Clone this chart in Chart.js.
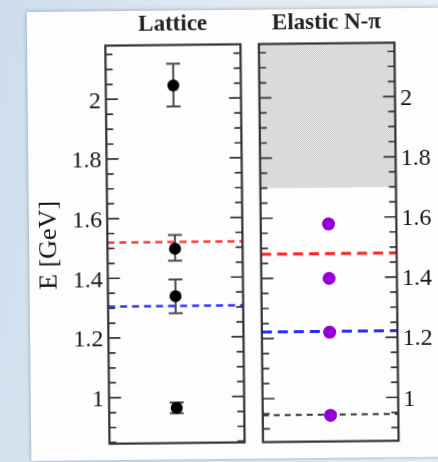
<!DOCTYPE html>
<html>
<head>
<meta charset="utf-8">
<script src="https://cdn.jsdelivr.net/npm/chart.js@4.4.1/dist/chart.umd.min.js"></script>
<style>
  html, body { margin: 0; padding: 0; }
  body {
    width: 438px; height: 462px; overflow: hidden; position: relative;
    background: linear-gradient(100deg, #cddded 0%, #dfeaf3 45%, #e9f1f7 100%);
  }
  #slide {
    position: absolute; left: 0; top: 0; width: 438px; height: 462px;
    transform: rotate(-0.6deg); transform-origin: 219px 231px;
  }
  #card {
    position: absolute; left: 29px; top: 10px; width: 440px; height: 449px;
    background: #fdfdfd; box-shadow: 0 0 4px rgba(60, 70, 85, 0.45);
  }
  #lattice { position: absolute; left: 0; top: 0; }
  #elastic { position: absolute; left: 250px; top: 0; }
</style>
</head>
<body>
<div id="slide">
  <div id="card"></div>
  <canvas id="lattice" width="250" height="462"></canvas>
  <canvas id="elastic" width="188" height="462"></canvas>
</div>
<script>
// energy axis labels (GeV)
const majorTicks = [1, 1.2, 1.4, 1.6, 1.8, 2];

// lattice levels with their error bars
const latticeE  = [2.044, 1.497, 1.338, 0.964];
const latticeLo = [1.974, 1.457, 1.281, 0.946];
const latticeHi = [2.117, 1.543, 1.394, 0.982];
const latticeRed  = 1.52;
const latticeBlue = 1.305;

// elastic N-pi levels
const elasticE = [1.579, 1.398, 1.219, 0.943];
const elasticRed   = 1.48;
const elasticBlue  = 1.222;
const elasticBlack = 0.945;
const inelasticStart = 1.70;

const xMid = 0.5;
const serif = 'Liberation Serif';
const ink = '#141414';

function hline(v, color, width, dash) {
  return {
    type: 'line',
    data: [{x: 0, y: v}, {x: 1, y: v}],
    borderColor: color, borderWidth: width, borderDash: dash,
    pointRadius: 0, fill: false
  };
}

function stipple() {
  const c = document.createElement('canvas');
  c.width = 2; c.height = 2;
  const g = c.getContext('2d');
  g.fillStyle = '#ececec'; g.fillRect(0, 0, 2, 2);
  g.fillStyle = '#c8c8c8'; g.fillRect(0, 0, 1, 1); g.fillRect(1, 1, 1, 1);
  return g.createPattern(c, 'repeat');
}

// box around the plot with inward ticks every 0.05 on both sides
const frame = {
  id: 'frame',
  afterDatasetsDraw(chart) {
    const {ctx, chartArea: a, scales: {y}} = chart;
    ctx.save();
    ctx.strokeStyle = '#333';
    ctx.lineWidth = 1.7;
    ctx.beginPath();
    for (let i = Math.ceil(y.min * 20); i <= Math.floor(y.max * 20); i++) {
      const py = y.getPixelForValue(i / 20);
      const len = i % 4 === 0 ? 12 : 7;
      ctx.moveTo(a.left, py); ctx.lineTo(a.left + len, py);
      ctx.moveTo(a.right, py); ctx.lineTo(a.right - len, py);
    }
    ctx.stroke();
    ctx.lineWidth = 2.2;
    ctx.strokeRect(a.left, a.top, a.right - a.left, a.bottom - a.top);
    ctx.restore();
  }
};

function errorBars(lo, hi) {
  return {
    id: 'errorBars',
    beforeDatasetsDraw(chart) {
      const {ctx, scales: {x, y}} = chart;
      const px = x.getPixelForValue(xMid);
      ctx.save();
      ctx.strokeStyle = '#4a4a4a';
      ctx.lineWidth = 2;
      lo.forEach((v, i) => {
        const y0 = y.getPixelForValue(v), y1 = y.getPixelForValue(hi[i]);
        ctx.beginPath();
        ctx.moveTo(px, y0); ctx.lineTo(px, y1);
        ctx.moveTo(px - 7, y0); ctx.lineTo(px + 7, y0);
        ctx.moveTo(px - 7, y1); ctx.lineTo(px + 7, y1);
        ctx.stroke();
      });
      ctx.restore();
    }
  };
}

function yAxis(position, min, max, width, label) {
  return {
    position, min, max,
    afterBuildTicks: s => { s.ticks = majorTicks.map(v => ({value: v})); },
    afterFit: s => { s.width = width; },
    grid: {display: false, drawTicks: false},
    border: {display: false},
    ticks: {
      padding: 5, labelOffset: 2, color: ink,
      font: {family: serif, size: 24},
      callback: v => String(v)
    },
    title: label ? {
      display: true, text: label, color: ink,
      font: {family: serif, size: 26}, padding: {top: 33.4, bottom: 0}
    } : {display: false}
  };
}

function panelTitle(text) {
  return {
    display: true, text, fullSize: false, color: '#222',
    font: {family: serif, size: 23, weight: 'bold', lineHeight: 1},
    padding: {top: 13, bottom: 8.5}
  };
}

const xAxis = {type: 'linear', min: 0, max: 1, display: false};

new Chart(document.getElementById('lattice'), {
  type: 'scatter',
  data: {
    datasets: [
      {
        data: latticeE.map(v => ({x: xMid, y: v})),
        pointRadius: 6, pointBackgroundColor: '#000', pointBorderWidth: 0
      },
      hline(latticeRed, '#ff3a3a', 2.5, [7, 5]),
      hline(latticeBlue, '#3434f4', 2.5, [7, 5])
    ]
  },
  options: {
    responsive: false, animation: false, events: [],
    layout: {padding: {left: 0, right: 7.6, top: 0, bottom: 14.5}},
    scales: {x: xAxis, y: yAxis('left', 0.846, 2.18, 107.3, 'E [GeV]')},
    plugins: {legend: {display: false}, tooltip: {enabled: false}, title: panelTitle('Lattice')}
  },
  plugins: [errorBars(latticeLo, latticeHi), frame]
});

new Chart(document.getElementById('elastic'), {
  type: 'scatter',
  data: {
    datasets: [
      {
        data: elasticE.map(v => ({x: xMid, y: v})),
        pointRadius: 6.5, pointBackgroundColor: '#9400d3', pointBorderWidth: 0
      },
      hline(elasticRed, '#ff2020', 3, [10, 6]),
      hline(elasticBlue, '#2b2bf2', 3, [10, 6]),
      hline(elasticBlack, '#333', 2, [6, 5]),
      {
        type: 'line',
        data: [{x: 0, y: inelasticStart}, {x: 1, y: inelasticStart}],
        borderWidth: 0, borderColor: 'rgba(0,0,0,0)', pointRadius: 0,
        fill: 'end', backgroundColor: stipple()
      }
    ]
  },
  options: {
    responsive: false, animation: false, events: [],
    layout: {padding: {left: 10.8, right: 0, top: 0, bottom: 16.5}},
    scales: {x: xAxis, y: yAxis('right', 0.856, 2.179, 41.6, null)},
    plugins: {legend: {display: false}, tooltip: {enabled: false}, title: panelTitle('Elastic N-π')}
  },
  plugins: [frame]
});
</script>
</body>
</html>
